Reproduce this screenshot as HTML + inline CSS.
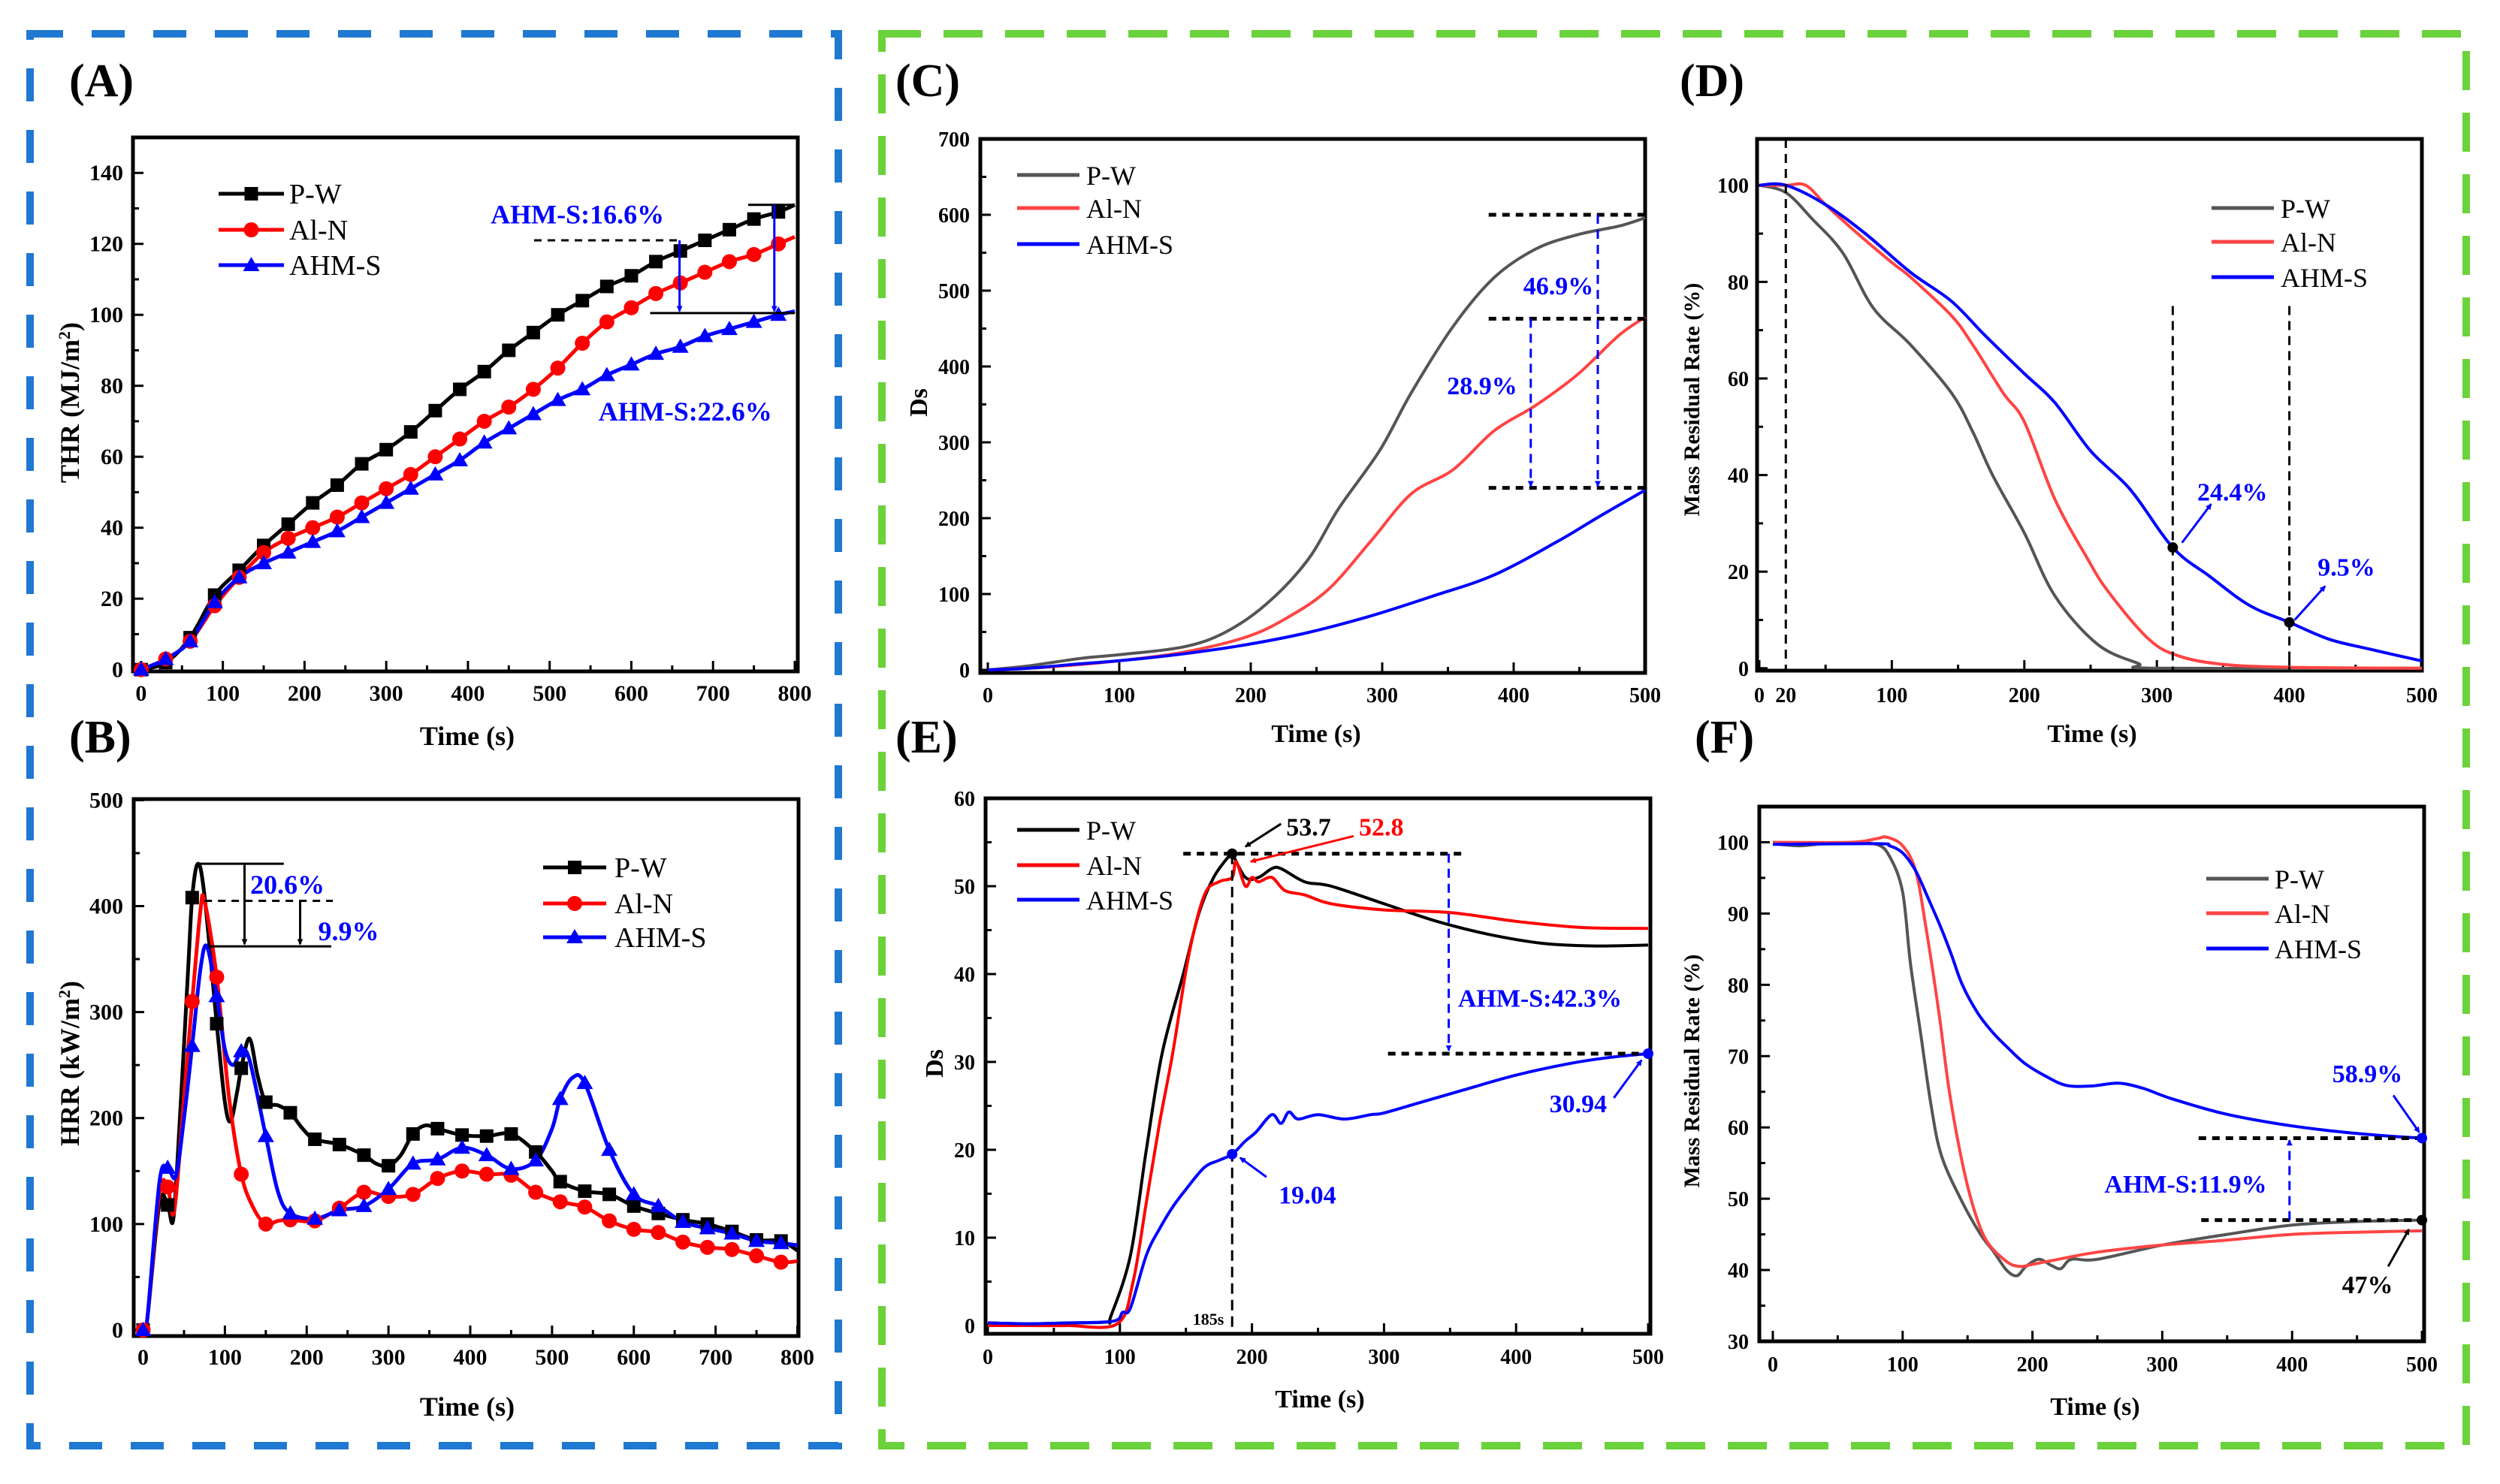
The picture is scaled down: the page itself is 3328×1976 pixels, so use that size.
<!DOCTYPE html>
<html><head><meta charset="utf-8"><style>
html,body{margin:0;padding:0;background:#fff;}
svg{display:block;font-family:"Liberation Serif",serif;}
</style></head><body>
<svg id="fig" width="3328" height="1976" viewBox="0 0 3328 1976" xmlns="http://www.w3.org/2000/svg">
<defs>
<marker id="ahK" markerWidth="8" markerHeight="8" refX="7" refY="4" orient="auto" markerUnits="userSpaceOnUse" viewBox="0 0 8 8"><path d="M0,0 L8,4 L0,8 z" fill="#000"/></marker>
<marker id="ahB" markerWidth="8" markerHeight="8" refX="7" refY="4" orient="auto" markerUnits="userSpaceOnUse" viewBox="0 0 8 8"><path d="M0,0 L8,4 L0,8 z" fill="#0000ff"/></marker>
<marker id="ahR" markerWidth="8" markerHeight="8" refX="7" refY="4" orient="auto" markerUnits="userSpaceOnUse" viewBox="0 0 8 8"><path d="M0,0 L8,4 L0,8 z" fill="#ff0000"/></marker>
</defs>
<rect x="0" y="0" width="3328" height="1976" fill="#fff"/>
<rect x="40" y="45" width="1076" height="1880" fill="none" stroke="#1f78d1" stroke-width="10" stroke-dasharray="44 38"/>
<rect x="1174" y="45" width="2109" height="1880" fill="none" stroke="#6ad23a" stroke-width="10" stroke-dasharray="52 30"/>
</svg>
<script>
// ---------- DATA ----------
// (A) THR
const thrTime = [0,30,60,90,120,150,180,210,240,270,300,330,360,390,420,450,480,510,540,570,600,630,660,690,720,750,780,800];
const thrPW   = [0,2,9,21,28,35,41,47,52,58,62,67,73,79,84,90,95,100,104,108,111,115,118,121,124,127,129,131];
const thrAlN  = [0,3,8,18,26,33,37,40,43,47,51,55,60,65,70,74,79,85,92,98,102,106,109,112,115,117,120,122];
const thrAHM  = [0,3,8,19,26,30,33,36,39,43,47,51,55,59,64,68,72,76,79,83,86,89,91,94,96,98,100,101];
// (B) HRR
const hrrPWt  = [0,5,20,30,37,45,55,60,67,75,90,100,107,115,120,130,140,150,165,180,195,210,240,270,285,300,315,330,345,360,390,420,450,480,500,510,540,570,600,630,660,690,720,750,780,800];
const hrrPWv  = [0,10,120,118,105,200,340,408,440,410,289,215,197,225,247,275,240,215,212,205,190,180,175,165,157,155,165,185,193,190,184,183,185,168,150,140,131,128,117,110,104,100,93,85,84,75];
const hrrAlNt = [0,5,20,30,38,50,60,70,75,90,105,120,135,150,165,180,210,240,270,300,330,360,390,420,450,480,510,540,570,600,630,660,690,720,750,780,800];
const hrrAlNv = [0,10,130,135,112,220,310,395,405,333,220,147,115,100,103,104,103,115,130,126,128,143,150,147,146,130,121,116,103,95,92,83,78,76,70,64,65];
const hrrAHMt = [0,5,20,30,40,50,60,70,78,90,100,110,120,130,150,165,180,210,240,270,300,330,360,390,420,450,480,500,510,525,540,570,600,630,660,690,720,750,780,800];
const hrrAHMv = [0,10,140,153,145,200,268,340,362,315,265,250,263,255,183,130,110,105,113,117,133,157,161,172,165,152,160,190,218,238,233,170,128,117,102,96,91,84,82,80];
// (C) Ds
const dsPWt  = [0,30,70,100,148,180,212,243,267,298,322,354,385,417,449,480,500];
const dsPWv  = [0,5,15,20,30,49,87,144,213,289,365,453,517,555,574,585,596];
const dsAlNt = [0,30,70,100,148,196,227,259,291,322,354,385,417,449,480,500];
const dsAlNv = [0,2,7,12,23,43,68,106,169,232,264,315,349,390,441,465];
const dsAHMt = [0,30,70,100,148,196,243,291,338,385,433,464,500];
const dsAHMv = [0,2,8,12,21,33,49,71,97,125,169,201,237];
// (D) Mass residual
const mrPWt  = [0,20,40,63,86,114,145,161,176,200,223,255,286,300,500];
const mrPWv  = [100,98.5,93,86,74.6,67,57,49,40,28,15,5,1,0,0];
const mrAlNt = [0,20,35,50,70,100,114,145,161,184,200,223,247,263,294,317,350,400,500];
const mrAlNv = [100,100,100,96,91,84,81,73,67,57,51,35,23,16,6,2.5,0.8,0.2,0];
const mrAHMt = [0,20,50,80,114,145,170,200,223,250,280,312,340,370,400,430,460,500];
const mrAHMv = [100,100,96,90,82,76,69,61,55,45,37,25,19,13,9.5,6,4,1.5];
// (E) Ds
const dsEPWt  = [0,30,60,90,93,108,120,132,148,160,171,183,185,195,205,215,222,240,260,300,340,380,420,460,500];
const dsEPWv  = [0.3,0.2,0.3,0.4,1,8,20,31,40,47,51,53.5,53.7,51,51,52,52,50.5,50,48,46,44.5,43.5,43.2,43.3];
const dsEAlNt = [0,30,60,98,110,120,130,140,152,164,175,185,188,195,200,205,215,225,240,260,300,350,400,450,500];
const dsEAlNv = [0,0,0,0.2,5,14,23,31,42,49,50.5,51,52.8,50,51,50.5,51,49.5,49,48,47.3,47,46,45.3,45.2];
const dsEAHMt = [0,30,60,95,102,108,120,130,140,150,164,175,185,195,203,215,222,228,235,250,270,290,300,330,360,400,440,470,500];
const dsEAHMv = [0.3,0.2,0.3,0.5,1.5,2,8,11,13.5,15.5,18,18.8,19.5,21,22,24,23,24.3,23.5,24,23.5,24,24.2,25.5,26.8,28.5,29.8,30.5,30.94];
// (F) Mass residual
const mfPWt  = [0,20,40,60,80,90,100,106,114,122,130,146,160,170,180,188,195,205,215,222,230,250,300,350,400,450,500];
const mfPWv  = [99.8,99.5,99.8,99.8,99.7,98,93,83,73,63,56,49.5,45,42.6,40,39.2,40.5,41.5,40.6,40.2,41.5,41.5,43.5,45,46.3,46.8,47];
const mfAlNt = [0,60,80,88,100,110,118,128,136,146,155,165,180,190,200,220,250,300,350,400,450,500];
const mfAlNv = [100,100,100.5,100.7,99.5,96,88,76,65,55,48.5,44,41.2,40.5,40.8,41.5,42.5,43.5,44.2,45,45.3,45.5];
const mfAHMt = [0,80,90,100,110,120,130,138,146,158,170,182,194,210,226,245,266,285,306,346,386,426,466,500];
const mfAHMv = [99.7,99.8,99.5,98.5,96,92,87.8,84,80,76,73.2,71,69,67.2,65.9,65.8,66.2,65.5,64.1,62,60.6,59.6,58.9,58.5];
// tick label arrays
const ticksA_x = [0,100,200,300,400,500,600,700,800];
const ticksA_y = [0,20,40,60,80,100,120,140];
const ticksB_y = [0,100,200,300,400,500];
const ticksC_x = [0,100,200,300,400,500];
const ticksC_y = [0,100,200,300,400,500,600,700];
const ticksD_x = [0,20,100,200,300,400,500];
const ticksD_y = [0,20,40,60,80,100];
const ticksE_y = [0,10,20,30,40,50,60];
const ticksF_y = [30,40,50,60,70,80,90,100];

// ---------- HELPERS ----------
const NS = "http://www.w3.org/2000/svg";
const svg = document.getElementById('fig');
function mk(tag, attrs, parent, name){
  const e = document.createElementNS(NS, tag);
  for (const k in attrs) e.setAttribute(k, attrs[k]);
  
  
  parent.appendChild(e);
  return e;
}
function txt(parent, x, y, s, name, o){
  o = o || {};
  const e = mk('text', {x:x, y:y, 'font-size':o.size||30, 'font-weight':o.bold===false?'normal':'bold', fill:o.fill||'#000', 'text-anchor':o.anchor||'start'}, parent, name);
  if (o.rot) e.setAttribute('transform', `rotate(${o.rot} ${x} ${y})`);
  if (o.ls) e.setAttribute('letter-spacing', o.ls);
  e.textContent = s;
  return e;
}
function panel(P){
  const g = mk('g', {}, svg, P.name);
  const X = v => P.l + (v - P.x0) / (P.x1 - P.x0) * (P.r - P.l);
  const Y = v => P.b - (v - P.y0) / (P.y1 - P.y0) * (P.b - P.t);
  for (let v = P.xMinStart; v <= P.x1 + 1e-6; v += P.xMin) {
    const major = P.xMajTicks.indexOf(Math.round(v)) >= 0;
    mk('line', {x1:X(v), x2:X(v), y1:P.b, y2:P.b-(major?14:8), stroke:'#000','stroke-width':3}, g, 'x-tick');
  }
  for (let v = P.yMinStart; v <= P.y1 + 1e-6; v += P.yMin) {
    const major = Math.abs((v - P.yMajStart) % P.yMaj) < 1e-6;
    mk('line', {x1:P.l, x2:P.l+(major?14:8), y1:Y(v), y2:Y(v), stroke:'#000','stroke-width':3}, g, 'y-tick');
  }
  P.xLabels.forEach(v => txt(g, X(v), P.xLabY, String(v), 'x-tick-label', {anchor:'middle', size:P.tickSize||30}));
  P.yLabels.forEach(v => txt(g, P.yLabR, Y(v)+10, String(v), 'y-tick-label', {anchor:'end', size:P.tickSize||30}));
  mk('rect', {x:P.l, y:P.t, width:P.r-P.l, height:P.b-P.t, fill:'none', stroke:'#000','stroke-width':5}, g, 'plot-frame');
  return {g, X, Y};
}
function pathD(ts, vs, X, Y){
  const p = ts.map((t,i)=>[X(t), Y(vs[i])]);
  let d = `M${p[0][0].toFixed(1)},${p[0][1].toFixed(1)}`;
  for (let i=0;i<p.length-1;i++){
    const p0=p[Math.max(i-1,0)], p1=p[i], p2=p[i+1], p3=p[Math.min(i+2,p.length-1)];
    const c1=[p1[0]+(p2[0]-p0[0])/6, p1[1]+(p2[1]-p0[1])/6];
    const c2=[p2[0]-(p3[0]-p1[0])/6, p2[1]-(p3[1]-p1[1])/6];
    d += ` C${c1[0].toFixed(1)},${c1[1].toFixed(1)} ${c2[0].toFixed(1)},${c2[1].toFixed(1)} ${p2[0].toFixed(1)},${p2[1].toFixed(1)}`;
  }
  return d;
}
function series(ax, ts, vs, color, name, w){
  mk('path', {d:pathD(ts, vs, ax.X, ax.Y), fill:'none', stroke:color, 'stroke-width':w||5, 'stroke-linejoin':'round'}, ax.g, name);
}
function marker(parent, x, y, shape, color, name){
  if (shape==='sq') mk('rect', {x:x-9, y:y-9, width:18, height:18, fill:color}, parent, name);
  else if (shape==='ci') mk('circle', {cx:x, cy:y, r:10, fill:color}, parent, name);
  else mk('path', {d:`M${x},${y-11} L${x+11},${y+8} L${x-11},${y+8} z`, fill:color}, parent, name);
}
function markers(ax, ts, vs, shape, color, name){
  ts.forEach((t,i)=>{ if (t % 30 === 0) marker(ax.g, ax.X(t), ax.Y(vs[i]), shape, color, name); });
}
function line(parent, x1,y1,x2,y2, color, name, o){
  o=o||{};
  const e = mk('line', {x1:x1,y1:y1,x2:x2,y2:y2, stroke:color, 'stroke-width':o.w||3}, parent, name);
  if (o.dash) e.setAttribute('stroke-dasharray', o.dash);
  if (o.arrow) e.setAttribute('marker-end', `url(#${o.arrow})`);
  return e;
}
function legend(parent, x1, x2, ys, colors, labels, shapes, tx, size){
  ys.forEach((y,i)=>{
    line(parent, x1, y, x2, y, colors[i], 'legend-line', {w:5});
    if (shapes) marker(parent, (x1+x2)/2, y, shapes[i], colors[i], 'legend-marker');
    txt(parent, tx, y+13, labels[i], 'legend-label', {bold:false, size:size});
  });
}
const LBL = ['P-W','Al-N','AHM-S'];

// ---------- PANEL A ----------
const A = panel({name:'panel-a-thr', l:177, r:1062, t:183, b:894, x0:-10, x1:803.7, y0:-0.5, y1:150,
  xMinStart:0, xMin:50, xMajTicks:ticksA_x, yMinStart:0, yMin:10, yMaj:20, yMajStart:0,
  xLabels:ticksA_x, yLabels:ticksA_y, xLabY:933, yLabR:164});
series(A, thrTime, thrPW, '#000', 'series-pw');
series(A, thrTime, thrAlN, '#ff0000', 'series-aln');
series(A, thrTime, thrAHM, '#0000ff', 'series-ahms');
markers(A, thrTime, thrPW, 'sq', '#000', 'marker-pw');
markers(A, thrTime, thrAlN, 'ci', '#ff0000', 'marker-aln');
markers(A, thrTime, thrAHM, 'tr', '#0000ff', 'marker-ahms');
line(A.g, A.X(481), A.Y(121), A.X(659), A.Y(121), '#000', 'ref-line-dashed', {dash:'10 8'});
line(A.g, A.X(743), A.Y(131), A.X(800), A.Y(131), '#000', 'ref-line-top');
line(A.g, A.X(623), A.Y(100.5), A.X(800), A.Y(100.5), '#000', 'ref-line-bottom');
line(A.g, A.X(659), A.Y(121), A.X(659), A.Y(101), '#0000ff', 'reduction-arrow', {arrow:'ahB'});
line(A.g, A.X(775), A.Y(131), A.X(775), A.Y(101), '#0000ff', 'reduction-arrow', {arrow:'ahB'});
txt(A.g, A.X(534), A.Y(128.5)+13, 'AHM-S:16.6%', 'annotation-16-6', {fill:'#0000ff', size:36, anchor:'middle'});
txt(A.g, A.X(666), A.Y(73)+13, 'AHM-S:22.6%', 'annotation-22-6', {fill:'#0000ff', size:36, anchor:'middle'});
legend(A.g, 291, 378, [258,306,353], ['#000','#ff0000','#0000ff'], LBL, ['sq','ci','tr'], 385, 38);
txt(svg, 622, 992, 'Time (s)', 'x-axis-title-a', {size:36, anchor:'middle'});
{ const t = txt(svg, 105, 536, '', 'y-axis-title-a', {size:36, anchor:'middle', rot:-90});
  t.textContent='THR (MJ/m'; const s=document.createElementNS(NS,'tspan'); s.setAttribute('baseline-shift','super'); s.setAttribute('font-size','22'); s.textContent='2'; t.appendChild(s); const s2=document.createElementNS(NS,'tspan'); s2.textContent=')'; t.appendChild(s2); }

// ---------- PANEL B ----------
const B = panel({name:'panel-b-hrr', l:178, r:1063, t:1064, b:1779, x0:-11.5, x1:801.4, y0:-5.7, y1:501,
  xMinStart:0, xMin:50, xMajTicks:ticksA_x, yMinStart:0, yMin:50, yMaj:100, yMajStart:0,
  xLabels:ticksA_x, yLabels:ticksB_y, xLabY:1817, yLabR:164});
series(B, hrrPWt, hrrPWv, '#000', 'series-pw');
series(B, hrrAlNt, hrrAlNv, '#ff0000', 'series-aln');
series(B, hrrAHMt, hrrAHMv, '#0000ff', 'series-ahms');
markers(B, hrrPWt, hrrPWv, 'sq', '#000', 'marker-pw');
markers(B, hrrAlNt, hrrAlNv, 'ci', '#ff0000', 'marker-aln');
markers(B, hrrAHMt, hrrAHMv, 'tr', '#0000ff', 'marker-ahms');
line(B.g, B.X(65), B.Y(440), B.X(172), B.Y(440), '#000', 'ref-line-pw-peak');
line(B.g, B.X(75), B.Y(405), B.X(232), B.Y(405), '#000', 'ref-line-aln-peak', {dash:'10 8'});
line(B.g, B.X(79), B.Y(362), B.X(230), B.Y(362), '#000', 'ref-line-ahms-peak');
line(B.g, B.X(124), B.Y(440), B.X(124), B.Y(364), '#000', 'reduction-arrow', {arrow:'ahK'});
line(B.g, B.X(192), B.Y(405), B.X(192), B.Y(364), '#000', 'reduction-arrow', {arrow:'ahK'});
txt(B.g, B.X(131), B.Y(421)+13, '20.6%', 'annotation-20-6', {fill:'#0000ff', size:36});
txt(B.g, B.X(214), B.Y(377)+13, '9.9%', 'annotation-9-9', {fill:'#0000ff', size:36});
legend(B.g, 723, 807, [1155,1203,1248], ['#000','#ff0000','#0000ff'], LBL, ['sq','ci','tr'], 818, 38);
txt(svg, 622, 1885, 'Time (s)', 'x-axis-title-b', {size:36, anchor:'middle'});
{ const t = txt(svg, 105, 1416, '', 'y-axis-title-b', {size:36, anchor:'middle', rot:-90});
  t.textContent='HRR (kW/m'; const s=document.createElementNS(NS,'tspan'); s.setAttribute('baseline-shift','super'); s.setAttribute('font-size','22'); s.textContent='2'; t.appendChild(s); const s2=document.createElementNS(NS,'tspan'); s2.textContent=')'; t.appendChild(s2); }

// ---------- PANEL C ----------
const C = panel({name:'panel-c-ds', l:1305, r:2190, t:185, b:896, x0:-5.7, x1:500, y0:-4, y1:700,
  xMinStart:0, xMin:50, xMajTicks:ticksC_x, yMinStart:0, yMin:50, yMaj:100, yMajStart:0,
  xLabels:ticksC_x, yLabels:ticksC_y, xLabY:935, yLabR:1291, tickSize:28});
series(C, dsPWt, dsPWv, '#555555', 'series-pw', 4);
series(C, dsAlNt, dsAlNv, '#ff4444', 'series-aln', 4);
series(C, dsAHMt, dsAHMv, '#0000ff', 'series-ahms', 4);
[600,463,240].forEach(v => line(C.g, C.X(381), C.Y(v), C.X(500), C.Y(v), '#000', 'ref-line-dashed', {dash:'10 8', w:5}));
line(C.g, C.X(413), C.Y(463), C.X(413), C.Y(242), '#0000ff', 'reduction-arrow', {dash:'12 8', arrow:'ahB'});
line(C.g, C.X(464), C.Y(600), C.X(464), C.Y(242), '#0000ff', 'reduction-arrow', {dash:'12 8', arrow:'ahB'});
txt(C.g, C.X(434), C.Y(507)+12, '46.9%', 'annotation-46-9', {fill:'#0000ff', size:34, anchor:'middle'});
txt(C.g, C.X(376), C.Y(375)+12, '28.9%', 'annotation-28-9', {fill:'#0000ff', size:34, anchor:'middle'});
legend(C.g, 1354, 1437, [233,277,325], ['#555555','#ff4444','#0000ff'], LBL, null, 1446, 36);
txt(svg, 1752, 988, 'Time (s)', 'x-axis-title-c', {size:34, anchor:'middle'});
txt(svg, 1234, 536, 'Ds', 'y-axis-title-c', {size:34, anchor:'middle', rot:-90});

// ---------- PANEL D ----------
const D = panel({name:'panel-d-mass', l:2339, r:3224, t:185, b:893, x0:-1.7, x1:500, y0:-0.5, y1:109.6,
  xMinStart:0, xMin:50, xMajTicks:[0,100,200,300,400,500], yMinStart:0, yMin:10, yMaj:20, yMajStart:0,
  xLabels:ticksD_x, yLabels:ticksD_y, xLabY:935, yLabR:2328, tickSize:28});
series(D, mrPWt, mrPWv, '#555555', 'series-pw', 4);
series(D, mrAlNt, mrAlNv, '#ff4444', 'series-aln', 4);
series(D, mrAHMt, mrAHMv, '#0000ff', 'series-ahms', 4);
line(D.g, D.X(20), D.Y(109.6), D.X(20), D.Y(-0.5), '#000', 'ref-line-20s', {dash:'12 8'});
line(D.g, D.X(312), D.Y(75), D.X(312), D.Y(-0.5), '#000', 'ref-line-312s', {dash:'12 8'});
line(D.g, D.X(400), D.Y(75), D.X(400), D.Y(-0.5), '#000', 'ref-line-400s', {dash:'12 8'});
mk('circle', {cx:D.X(312), cy:D.Y(25), r:7, fill:'#000'}, D.g, 'point-24-4');
mk('circle', {cx:D.X(400), cy:D.Y(9.5), r:7, fill:'#000'}, D.g, 'point-9-5');
line(D.g, D.X(319), D.Y(26), D.X(341), D.Y(34), '#0000ff', 'callout-arrow', {arrow:'ahB'});
line(D.g, D.X(404), D.Y(10), D.X(427), D.Y(17), '#0000ff', 'callout-arrow', {arrow:'ahB'});
txt(D.g, D.X(357), D.Y(36.6)+12, '24.4%', 'annotation-24-4', {fill:'#0000ff', size:34, anchor:'middle'});
txt(D.g, D.X(443), D.Y(21)+12, '9.5%', 'annotation-9-5', {fill:'#0000ff', size:34, anchor:'middle'});
legend(D.g, 2944, 3027, [277,322,369], ['#555555','#ff4444','#0000ff'], LBL, null, 3036, 36);
txt(svg, 2785, 988, 'Time (s)', 'x-axis-title-d', {size:34, anchor:'middle'});
txt(svg, 2262, 532, 'Mass Residual Rate (%)', 'y-axis-title-d', {size:30, anchor:'middle', rot:-90});

// ---------- PANEL E ----------
const E = panel({name:'panel-e-ds', l:1312, r:2197, t:1063, b:1776, x0:-1.7, x1:501.7, y0:-0.94, y1:60,
  xMinStart:0, xMin:50, xMajTicks:ticksC_x, yMinStart:0, yMin:5, yMaj:10, yMajStart:0,
  xLabels:ticksC_x, yLabels:ticksE_y, xLabY:1816, yLabR:1298, tickSize:28});
series(E, dsEPWt, dsEPWv, '#000', 'series-pw', 4);
series(E, dsEAlNt, dsEAlNv, '#ff0000', 'series-aln', 4);
series(E, dsEAHMt, dsEAHMv, '#0000ff', 'series-ahms', 4);
line(E.g, E.X(148), E.Y(53.7), E.X(360), E.Y(53.7), '#000', 'ref-line-peak', {dash:'10 8', w:5});
line(E.g, E.X(185), E.Y(53.7), E.X(185), E.Y(-0.94), '#000', 'ref-line-185s', {dash:'14 8'});
line(E.g, E.X(303), E.Y(30.94), E.X(500), E.Y(30.94), '#000', 'ref-line-final', {dash:'10 8', w:5});
line(E.g, E.X(349), E.Y(53.7), E.X(349), E.Y(31.3), '#0000ff', 'reduction-arrow', {dash:'12 8', arrow:'ahB'});
txt(E.g, E.X(167), E.Y(0.7)+7, '185s', 'annotation-185s', {size:22, anchor:'middle'});
txt(E.g, E.X(356), E.Y(37.3)+12, 'AHM-S:42.3%', 'annotation-42-3', {fill:'#0000ff', size:34});
mk('circle', {cx:E.X(185), cy:E.Y(53.7), r:7, fill:'#000'}, E.g, 'point-53-7');
mk('circle', {cx:E.X(185), cy:E.Y(19.5), r:7, fill:'#0000ff'}, E.g, 'point-19-04');
mk('circle', {cx:E.X(500), cy:E.Y(30.94), r:7, fill:'#0000ff'}, E.g, 'point-30-94');
line(E.g, E.X(222), E.Y(57.1), E.X(195), E.Y(54.5), '#000', 'callout-arrow', {arrow:'ahK'});
line(E.g, E.X(277), E.Y(55.7), E.X(199), E.Y(52.8), '#ff0000', 'callout-arrow', {arrow:'ahR'});
line(E.g, E.X(211), E.Y(16.9), E.X(191), E.Y(19.1), '#0000ff', 'callout-arrow', {arrow:'ahB'});
line(E.g, E.X(474), E.Y(25.9), E.X(495), E.Y(30.2), '#0000ff', 'callout-arrow', {arrow:'ahB'});
txt(E.g, E.X(226), E.Y(56.8)+12, '53.7', 'annotation-53-7', {size:34});
txt(E.g, E.X(281), E.Y(56.8)+12, '52.8', 'annotation-52-8', {size:34, fill:'#ff0000'});
txt(E.g, E.X(447), E.Y(25.3)+12, '30.94', 'annotation-30-94', {size:34, fill:'#0000ff', anchor:'middle'});
txt(E.g, E.X(242), E.Y(14.9)+12, '19.04', 'annotation-19-04', {size:34, fill:'#0000ff', anchor:'middle'});
legend(E.g, 1354, 1437, [1105,1152,1198], ['#000','#ff0000','#0000ff'], LBL, null, 1446, 36);
txt(svg, 1757, 1874, 'Time (s)', 'x-axis-title-e', {size:34, anchor:'middle'});
txt(svg, 1255, 1416, 'Ds', 'y-axis-title-e', {size:34, anchor:'middle', rot:-90});

// ---------- PANEL F ----------
const F = panel({name:'panel-f-mass', l:2342, r:3227, t:1074, b:1786, x0:-10.4, x1:501.7, y0:30, y1:105,
  xMinStart:0, xMin:50, xMajTicks:ticksC_x, yMinStart:30, yMin:5, yMaj:10, yMajStart:30,
  xLabels:ticksC_x, yLabels:ticksF_y, xLabY:1826, yLabR:2328, tickSize:28});
series(F, mfPWt, mfPWv, '#555555', 'series-pw', 4);
series(F, mfAlNt, mfAlNv, '#ff4444', 'series-aln', 4);
series(F, mfAHMt, mfAHMv, '#0000ff', 'series-ahms', 4);
line(F.g, F.X(328), F.Y(58.5), F.X(500), F.Y(58.5), '#000', 'ref-line-ahms', {dash:'10 8', w:5});
line(F.g, F.X(330), F.Y(47), F.X(500), F.Y(47), '#000', 'ref-line-pw', {dash:'10 8', w:5});
line(F.g, F.X(398), F.Y(47), F.X(398), F.Y(58.2), '#0000ff', 'increase-arrow', {dash:'12 8', arrow:'ahB'});
txt(F.g, F.X(318), F.Y(52.1)+12, 'AHM-S:11.9%', 'annotation-11-9', {fill:'#0000ff', size:34, anchor:'middle'});
mk('circle', {cx:F.X(500), cy:F.Y(58.5), r:7, fill:'#0000ff'}, F.g, 'point-58-9');
mk('circle', {cx:F.X(500), cy:F.Y(47), r:7, fill:'#000'}, F.g, 'point-47');
line(F.g, F.X(478), F.Y(64.5), F.X(498), F.Y(59.3), '#0000ff', 'callout-arrow', {arrow:'ahB'});
line(F.g, F.X(474), F.Y(40.5), F.X(490), F.Y(45.7), '#000', 'callout-arrow', {arrow:'ahK'});
txt(F.g, F.X(458), F.Y(67.6)+12, '58.9%', 'annotation-58-9', {fill:'#0000ff', size:34, anchor:'middle'});
txt(F.g, F.X(458), F.Y(38)+12, '47%', 'annotation-47', {size:34, anchor:'middle'});
legend(F.g, 2937, 3020, [1170,1216,1263], ['#555555','#ff4444','#0000ff'], LBL, null, 3028, 36);
txt(svg, 2789, 1884, 'Time (s)', 'x-axis-title-f', {size:34, anchor:'middle'});
txt(svg, 2262, 1426, 'Mass Residual Rate (%)', 'y-axis-title-f', {size:30, anchor:'middle', rot:-90});

// ---------- PANEL LETTERS ----------
txt(svg, 92, 128, '(A)', 'panel-label-a', {size:62});
txt(svg, 92, 1002, '(B)', 'panel-label-b', {size:62});
txt(svg, 1192, 128, '(C)', 'panel-label-c', {size:62});
txt(svg, 2236, 128, '(D)', 'panel-label-d', {size:62});
txt(svg, 1192, 1002, '(E)', 'panel-label-e', {size:62});
txt(svg, 2256, 1002, '(F)', 'panel-label-f', {size:62});
</script>
</body></html>
